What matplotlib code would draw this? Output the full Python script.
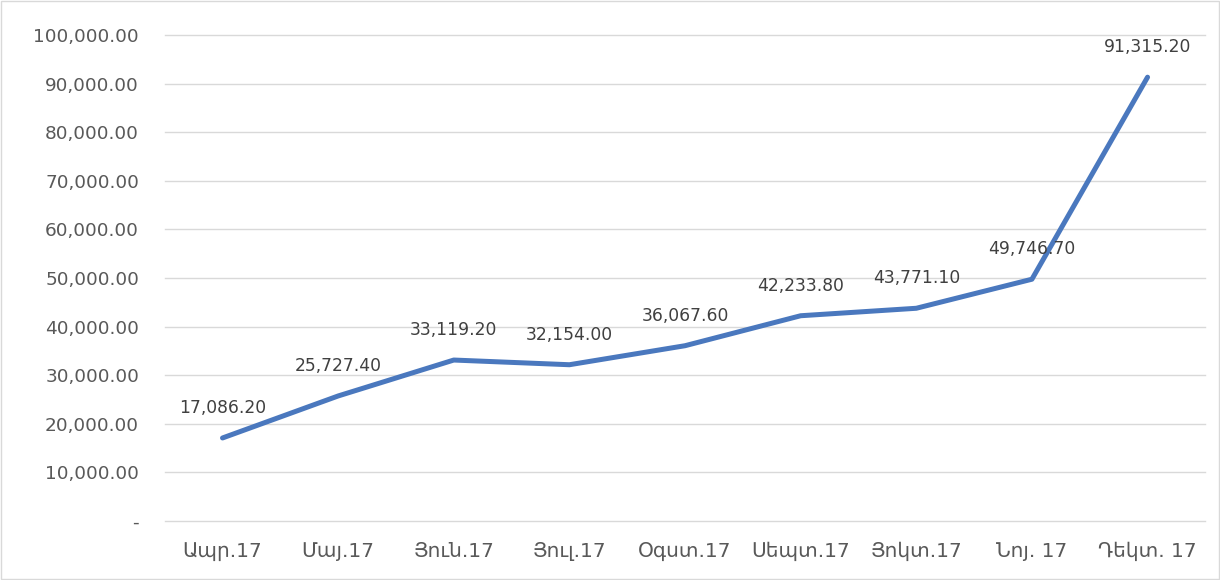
import matplotlib
matplotlib.use("Agg")
import matplotlib.pyplot as plt
from matplotlib.ticker import FuncFormatter
from matplotlib.patches import Rectangle

plt.rcParams['font.family'] = ['DejaVu Sans']

categories = ["Ապր.17", "Մայ.17", "Յուն.17", "Յուլ.17", "Օգստ.17",
              "Սեպտ.17", "Յոկտ.17", "Նոյ. 17", "Դեկտ. 17"]
values = [17086.20, 25727.40, 33119.20, 32154.00, 36067.60,
          42233.80, 43771.10, 49746.70, 91315.20]
yticks = list(range(0, 100001, 10000))

fig = plt.figure(figsize=(12.2, 5.8), dpi=100)
ax = fig.add_axes([0.135, 0.1017, 0.853, 0.838])

x = list(range(len(categories)))
ax.plot(x, values, color="#4A78BE", linewidth=3.6, solid_capstyle="round",
        solid_joinstyle="round", zorder=3)
for xi, v in zip(x, values):
    ax.annotate(f"{v:,.2f}", (xi, v), xytext=(0, 15), textcoords="offset points",
                ha="center", va="bottom", fontsize=12.3, color="#404040")

ax.set_xlim(-0.5, len(categories) - 0.5)
ax.set_ylim(0, 100000)
ax.set_yticks(yticks)
ax.yaxis.set_major_formatter(FuncFormatter(lambda v, p: "-" if v == 0 else f"{v:,.2f}"))
ax.set_xticks(x)
ax.set_xticklabels(categories)
ax.grid(axis="y", color="#D9D9D9", linewidth=1)
for gl in ax.get_ygridlines():
    gl.set_clip_on(False)
ax.set_axisbelow(True)
for s in ax.spines.values():
    s.set_visible(False)
ax.tick_params(axis="y", length=0, labelsize=13.3, colors="#595959", pad=18.5)
ax.tick_params(axis="x", length=0, labelsize=14.5, colors="#595959", pad=15)

fig.patches.append(Rectangle((0.001, 0.001), 0.998, 0.997, transform=fig.transFigure,
                             fill=False, edgecolor="#D9D9D9", linewidth=1))
fig.savefig("out.png", dpi=100)
